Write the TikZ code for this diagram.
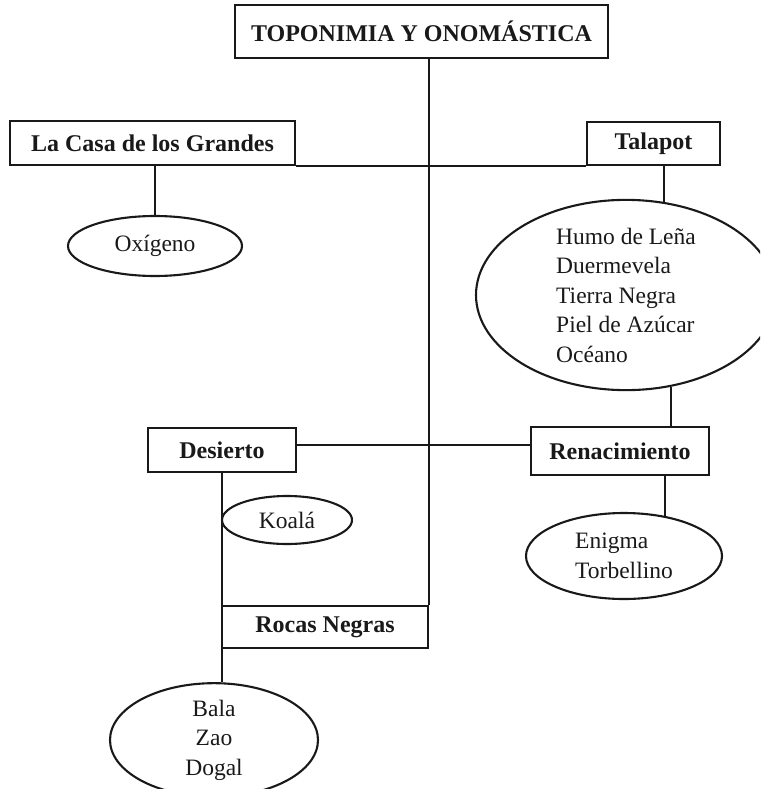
\documentclass[tikz,border=0pt]{standalone}
\usepackage{fontspec}
\setmainfont{Liberation Serif}
\usetikzlibrary{shapes.geometric}
\tikzset{
  x=1pt, y=-1pt,
  link/.style={line width=2.1pt, draw=black!90},
  title/.style={draw=black!90, line width=2.1pt, rectangle, inner sep=0pt,
    font=\fontsize{24}{29}\selectfont\bfseries, text=black!90},
  leaf/.style={draw=black!90, line width=2.1pt, ellipse, inner sep=0pt,
    font=\fontsize{23.5}{29.5}\selectfont, text=black!90}
}
\begin{document}
\begin{tikzpicture}
\useasboundingbox (0,0) rectangle (760,789);
\clip (0,0) rectangle (760,789);

% heading boxes
\node[title, minimum width=373pt, minimum height=53pt] (top) at (421.5,31.5) {TOPONIMIA Y ONOMÁSTICA};
\node[title, minimum width=285pt, minimum height=44pt] (casa) at (152.5,143) {La Casa de los Grandes};
\node[title, minimum width=133pt, minimum height=43pt] (talapot) at (653.5,143.5) {Talapot};
\node[title, minimum width=148pt, minimum height=44pt] (des) at (222,450) {Desierto};
\node[title, minimum width=178pt, minimum height=48pt] (renac) at (620,451) {Renacimiento};
\node[title, minimum width=206pt, minimum height=42pt] (rocas) at (325,627) {Rocas Negras};

% name ellipses
\node[leaf, minimum width=174pt, minimum height=60pt] (oxi) at (155,246) {Oxígeno};
\node[leaf, minimum width=300pt, minimum height=170pt, align=left] (humo) at (626,295)
  {Humo de Leña\\Duermevela\\Tierra Negra\\Piel de Azúcar\\Océano};
\node[leaf, minimum width=130pt, minimum height=48pt] (koala) at (287,520) {Koalá};
\node[leaf, minimum width=196pt, minimum height=86pt, align=left] (enig) at (624,556)
  {Enigma\\Torbellino};
\node[leaf, minimum width=208pt, minimum height=108pt, align=center] (bala) at (214,740)
  {Bala\\Zao\\Dogal};

% connectors
\coordinate (hl) at (0,445);
\draw[link] (top.south -| rocas.north east) -- (rocas.north east);
\draw[link] (casa.south east) -- (talapot.south west);
\draw[link] (casa.south -| oxi.north) -- (oxi.north);
\draw[link] (talapot.south -| humo.68) -- (humo.68);
\draw[link] (humo.-64) -- (humo.-64 |- renac.north);
\draw[link] (des.east |- hl) -- (renac.west |- hl);
\draw[link] (renac.south -| enig.44) -- (enig.44);
\draw[link] (des.south) -- (des.south |- bala.82);
\end{tikzpicture}
\end{document}
